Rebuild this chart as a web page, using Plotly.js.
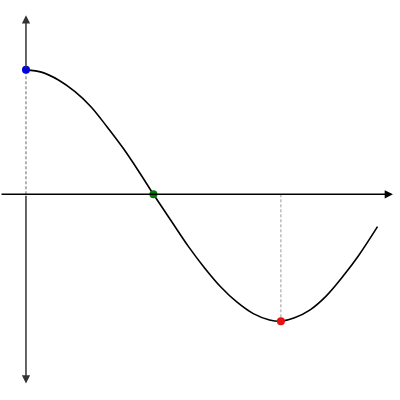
<!DOCTYPE html>
<html>
<head>
<meta charset="utf-8">
<script src="https://cdn.plot.ly/plotly-3.0.1.min.js"></script>
<style>html,body{margin:0;padding:0;background:#fff;}#chart{width:400px;height:400px;}</style>
</head>
<body>
<div id="chart"></div>
<script>
// Curve samples
var curveX = [0, 0.2, 0.4, 0.6, 0.8, 1.0, 1.2, 1.4, 1.57, 1.8, 2.0, 2.2, 2.4, 2.6, 2.8, 3.0, 3.14, 3.3, 3.5, 3.7, 3.9, 4.1, 4.33];
var curveY = [0.98, 0.96, 0.90, 0.81, 0.69, 0.53, 0.36, 0.17, 0, -0.22, -0.41, -0.58, -0.73, -0.85, -0.94, -0.99, -1.0, -0.975, -0.91, -0.80, -0.65, -0.48, -0.255];

// Highlighted points
var pointX = [0, 1.57, 3.14];
var pointY = [0.98, 0, -1.0];
var pointColors = ['#0000e0', '#007a00', '#e81010'];

// Dashed drop lines
var dropX = [0, 3.14];
var dropY = [0.98, -1.0];

// Axis extents
var xAxisStart = -0.32, xAxisEnd = 4.52;
var yAxisTop = 1.41, yAxisBottom = -1.49;

var traces = [];
for (var i = 0; i < dropX.length; i++) {
  traces.push({
    x: [dropX[i], dropX[i]], y: [0, dropY[i]], mode: 'lines',
    line: {color: i === 0 ? '#666666' : '#999999', width: 1, dash: '3px,2px'},
    hoverinfo: 'skip', showlegend: false
  });
}
traces.push({
  x: curveX, y: curveY, mode: 'lines',
  line: {color: '#000000', width: 1.6, shape: 'spline', smoothing: 1},
  hoverinfo: 'skip', showlegend: false
});
traces.push({
  x: pointX, y: pointY, mode: 'markers',
  marker: {color: pointColors, size: 8},
  hoverinfo: 'skip', showlegend: false
});

var arrowCommon = {xref: 'x', yref: 'y', axref: 'x', ayref: 'y', text: '', showarrow: true,
  arrowhead: 2, arrowsize: 1.1, arrowwidth: 1.5, standoff: 0, startstandoff: 0};

var annotations = [
  Object.assign({}, arrowCommon, {x: xAxisEnd, y: 0, ax: xAxisStart, ay: 0, arrowcolor: '#000000'}),
  Object.assign({}, arrowCommon, {x: 0, y: yAxisTop, ax: 0, ay: pointY[0], arrowcolor: '#333333'}),
  Object.assign({}, arrowCommon, {x: 0, y: yAxisBottom, ax: 0, ay: 0, arrowcolor: '#333333'})
];

var layout = {
  width: 400, height: 400,
  margin: {l: 0, r: 0, t: 0, b: 0},
  paper_bgcolor: '#ffffff', plot_bgcolor: '#ffffff',
  xaxis: {range: [-0.32, 4.607], visible: false, fixedrange: true},
  yaxis: {range: [-1.62, 1.53], visible: false, fixedrange: true},
  annotations: annotations,
  showlegend: false
};

Plotly.newPlot('chart', traces, layout, {displayModeBar: false, staticPlot: true});
</script>
</body>
</html>
